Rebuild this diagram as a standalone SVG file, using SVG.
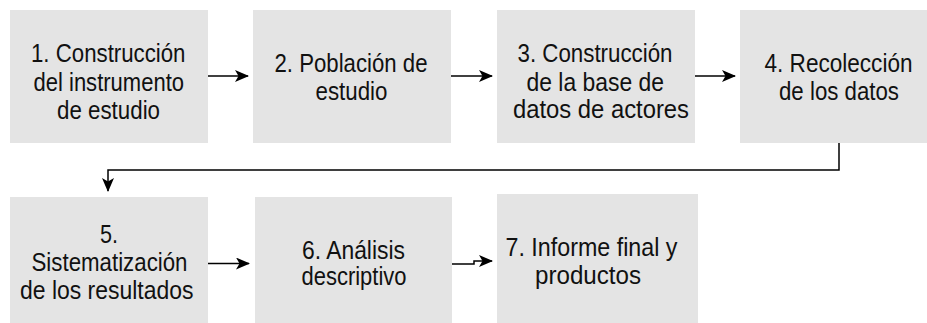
<svg xmlns="http://www.w3.org/2000/svg" width="927" height="323" viewBox="0 0 927 323">
<defs>
<style>
.box{fill:#e4e4e4;}
.t{font-family:"Liberation Sans",Arial,sans-serif;font-size:26px;fill:#111;}
.c{fill:none;stroke:#000;stroke-width:1.5;}
</style>
<marker id="ah" viewBox="0 0 14 12" refX="13" refY="6" markerWidth="14" markerHeight="12" markerUnits="userSpaceOnUse" orient="auto">
<path d="M0,0 L14,6 L0,12 L3.5,6 Z" fill="#000"/>
</marker>
</defs>
<rect width="927" height="323" fill="#fff"/>
<g id="n1"><rect class="box" x="10" y="10" width="198" height="133"/>
<text class="t" x="31" y="62" textLength="154.5" lengthAdjust="spacingAndGlyphs">1. Construcción</text>
<text class="t" x="33.5" y="90.5" textLength="150.5" lengthAdjust="spacingAndGlyphs">del instrumento</text>
<text class="t" x="57" y="119" textLength="103" lengthAdjust="spacingAndGlyphs">de estudio</text></g>
<g id="n2"><rect class="box" x="253" y="10" width="198" height="133"/>
<text class="t" x="274.5" y="72" textLength="153" lengthAdjust="spacingAndGlyphs">2. Población de</text>
<text class="t" x="315.5" y="99.5" textLength="72" lengthAdjust="spacingAndGlyphs">estudio</text></g>
<g id="n3"><rect class="box" x="497" y="10" width="198" height="133"/>
<text class="t" x="517.5" y="62" textLength="155" lengthAdjust="spacingAndGlyphs">3. Construcción</text>
<text class="t" x="526.5" y="90.5" textLength="137.5" lengthAdjust="spacingAndGlyphs">de la base de</text>
<text class="t" x="513" y="118" textLength="176" lengthAdjust="spacingAndGlyphs">datos de actores</text></g>
<g id="n4"><rect class="box" x="740" y="10" width="187" height="133"/>
<text class="t" x="764.5" y="72" textLength="148" lengthAdjust="spacingAndGlyphs">4. Recolección</text>
<text class="t" x="779" y="99.5" textLength="120" lengthAdjust="spacingAndGlyphs">de los datos</text></g>
<g id="n5"><rect class="box" x="10" y="197" width="198" height="126"/>
<text class="t" x="100" y="243" textLength="18" lengthAdjust="spacingAndGlyphs">5.</text>
<text class="t" x="31.5" y="270.5" textLength="156" lengthAdjust="spacingAndGlyphs">Sistematización</text>
<text class="t" x="20" y="299" textLength="173.5" lengthAdjust="spacingAndGlyphs">de los resultados</text></g>
<g id="n6"><rect class="box" x="255" y="197" width="197" height="126"/>
<text class="t" x="302" y="258.5" textLength="103" lengthAdjust="spacingAndGlyphs">6. Análisis</text>
<text class="t" x="301.5" y="285" textLength="105" lengthAdjust="spacingAndGlyphs">descriptivo</text></g>
<g id="n7"><rect class="box" x="497" y="194" width="201" height="129"/>
<text class="t" x="505.5" y="256" textLength="172" lengthAdjust="spacingAndGlyphs">7. Informe final y</text>
<text class="t" x="535" y="283.5" textLength="106" lengthAdjust="spacingAndGlyphs">productos</text></g>
<g id="connectors">
<path class="c" d="M208,76 H248" marker-end="url(#ah)"/>
<path class="c" d="M451,76 H492" marker-end="url(#ah)"/>
<path class="c" d="M695,76 H735" marker-end="url(#ah)"/>
<path class="c" d="M839,143 V170 H108 V191" marker-end="url(#ah)"/>
<path class="c" d="M208,263.5 H249" marker-end="url(#ah)"/>
<path class="c" d="M452,264 H474 V261 H492" marker-end="url(#ah)"/>
</g>
</svg>
